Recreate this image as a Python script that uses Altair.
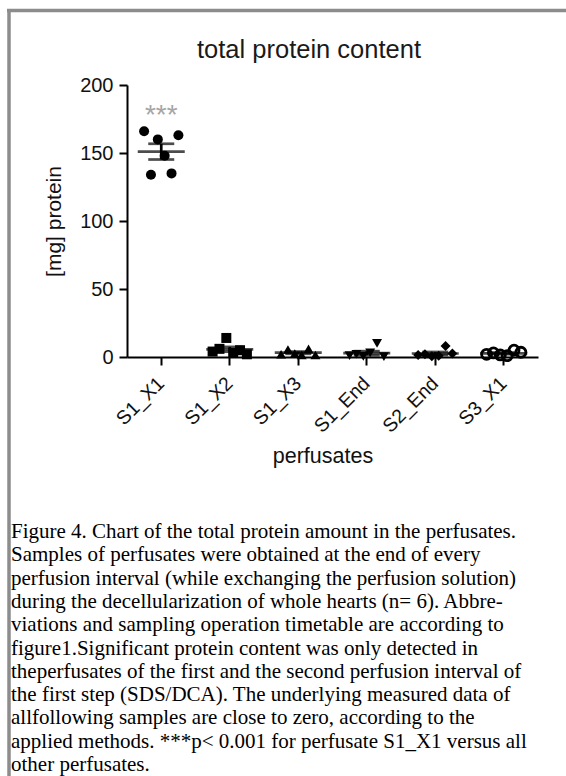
import altair as alt
import pandas as pd

# ---------------- data ----------------
categories = ["S1_X1", "S1_X2", "S1_X3", "S1_End", "S2_End", "S3_X1"]
shapes = ["circle", "square", "triangle-up", "triangle-down", "diamond", "circle"]
replicates = [1, 2, 3, 4, 5, 6]
s1_x1 = [166, 134, 160, 148, 135, 163]
s1_x2 = [4, 6, 14, 3, 5, 2]
s1_x3 = [2, 5.5, 2.5, 1.5, 6, 1.5]
s1_end = [1, 2, 0.5, 3, 10, 0.3]
s2_end = [1.5, 2, 0.5, 1, 8, 2.5]
s3_x1 = [2, 3, 1.5, 1, 5, 3.5]
y_ticks = [0, 50, 100, 150, 200]

title_text = "total protein content"
y_title = "[mg] protein"
x_title = "perfusates"
significance = "***"
caption_lines = [
    "Figure 4. Chart of the total protein amount in the perfusates.",
    "Samples of perfusates were obtained at the end of every",
    "perfusion interval (while exchanging the perfusion solution)",
    "during the decellularization of whole hearts (n= 6). Abbre-",
    "viations and sampling operation timetable are according to",
    "figure1.Significant protein content was only detected in",
    "theperfusates of the first and the second perfusion interval of",
    "the first step (SDS/DCA). The underlying measured data of",
    "allfollowing samples are close to zero, according to the",
    "applied methods. ***p< 0.001 for perfusate S1_X1 versus all",
    "other perfusates.",
]

rows = []
for cat, vals in zip(categories, [s1_x1, s1_x2, s1_x3, s1_end, s2_end, s3_x1]):
    for r, v in zip(replicates, vals):
        rows.append({"perfusate": cat, "replicate": r, "protein": v})
df = pd.DataFrame(rows)

SANS = "Liberation Sans"
SERIF = "Liberation Serif"
W, H = 411, 272

x_enc = alt.X(
    "perfusate:N",
    sort=categories,
    scale=alt.Scale(type="band", domain=categories, paddingInner=0, paddingOuter=0),
    axis=alt.Axis(
        title=x_title,
        labelAngle=-45,
        labelAlign="right",
        labelBaseline="middle",
        labelPadding=15,
        labelFontSize=19.5,
        bandPosition=0.5,
        labelOverlap=False,
        titleX=195.5,
        titleY=105,
        titleBaseline="alphabetic",
        titleFontSize=21.5,
    ),
)


def y_enc(field):
    return alt.Y(
        field,
        scale=alt.Scale(domain=[0, 200], nice=False),
        axis=alt.Axis(
            values=y_ticks,
            title=y_title,
            titleX=-67,
            titleBaseline="alphabetic",
            titleFontSize=21,
            labelPadding=6,
            labelFontSize=20,
        ),
    )


shape_enc = alt.Shape(
    "perfusate:N", scale=alt.Scale(domain=categories, range=shapes), legend=None
)
xoff = alt.XOffset(
    "replicate:N", scale=alt.Scale(range=[17.1, 51.4], paddingInner=0, paddingOuter=0)
)

base = alt.Chart(df)

filled_pts = base.transform_filter(alt.datum.perfusate != "S3_X1").mark_point(
    filled=True, color="black", size=100, opacity=1
).encode(x=x_enc, xOffset=xoff, y=y_enc("protein:Q"), shape=shape_enc)

open_pts = base.transform_filter(alt.datum.perfusate == "S3_X1").mark_point(
    filled=False, color="black", size=100, strokeWidth=2.8, opacity=1
).encode(x=x_enc, xOffset=xoff, y=y_enc("protein:Q"), shape=shape_enc)

stats = base.transform_aggregate(
    mean="mean(protein)", sem="stderr(protein)", top="max(protein)", groupby=["perfusate"]
).transform_calculate(lo="datum.mean - datum.sem", hi="datum.mean + datum.sem")

err_rule = stats.mark_rule(color="black", strokeWidth=2.7).encode(
    x=x_enc, y=y_enc("lo:Q"), y2="hi:Q"
)
mean_tick = stats.mark_tick(color="black", size=47, thickness=2.7).encode(
    x=x_enc, y=y_enc("mean:Q")
)
cap_ticks = stats.transform_fold(["lo", "hi"], as_=["which", "cap"]).mark_tick(
    color="black", size=26, thickness=2.7
).encode(x=x_enc, y=y_enc("cap:Q"))

stars = stats.transform_filter(alt.datum.perfusate == categories[0]).transform_calculate(
    star_y="datum.top + 5"
).mark_text(
    text=significance, color="#a6a6a6", font=SANS, fontSize=28, baseline="alphabetic"
).encode(x=x_enc, y=y_enc("star_y:Q"))

one = alt.Chart(pd.DataFrame({"t": [title_text], "c": ["\n".join(caption_lines)]}))

title_mark = one.mark_text(
    font=SANS, fontSize=25.5, color="#1a1a1a", align="left", baseline="alphabetic"
).encode(text="t:N", x=alt.value(70), y=alt.value(-27))

caption_mark = one.mark_text(
    font=SERIF, fontSize=21, color="black", align="left", baseline="alphabetic",
    lineBreak="\n", lineHeight=23.3,
).encode(text="c:N", x=alt.value(-116), y=alt.value(453))

border_top = one.mark_rule(color="#8c8c8c", strokeWidth=3.5).encode(
    x=alt.value(-120), x2=alt.value(439), y=alt.value(-74.5)
)
border_left = one.mark_rule(color="#8c8c8c", strokeWidth=3.5).encode(
    x=alt.value(-118), y=alt.value(-76), y2=alt.value(691)
)

chart = alt.layer(
    err_rule, mean_tick, cap_ticks, filled_pts, open_pts, stars,
    title_mark, caption_mark, border_top, border_left,
).properties(
    width=W, height=H,
    autosize=alt.AutoSizeParams(type="none"),
    padding={"left": 127, "top": 85, "right": 28, "bottom": 419},
    background="white",
).configure_view(stroke=None).configure_axis(
    grid=False,
    domainColor="black", domainWidth=2,
    tickColor="black", tickWidth=2, tickSize=8,
    labelColor="#111", titleColor="#111",
    labelFont=SANS, titleFont=SANS,
    titleFontWeight="normal",
)

chart.save("out.html", embed_options={"renderer": "svg", "actions": False})
